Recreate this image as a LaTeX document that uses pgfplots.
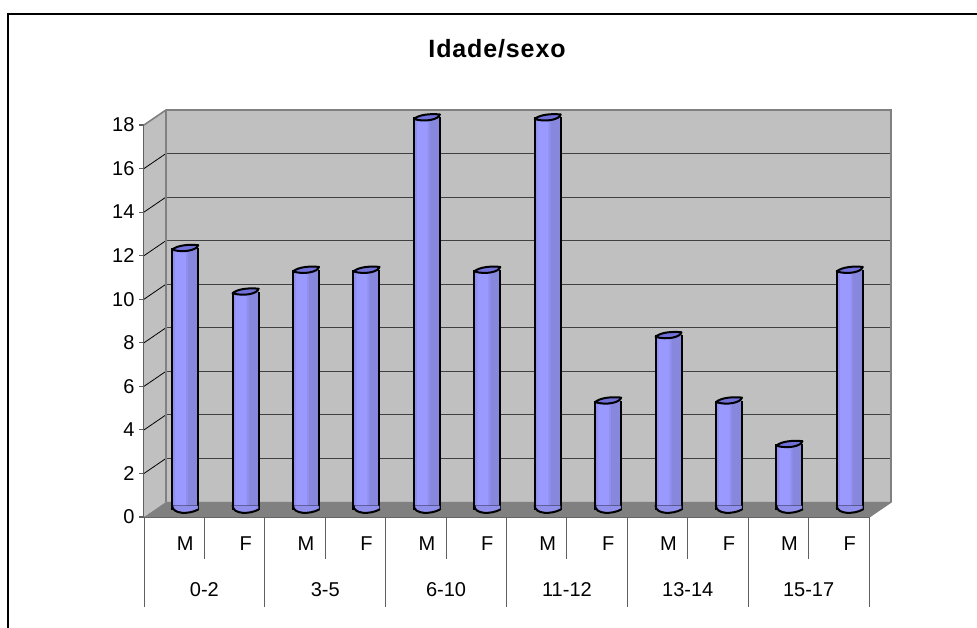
\documentclass[border=0pt]{standalone}
\usepackage{pgfplots}
\usepackage{pgfplotstable}
\pgfplotsset{compat=1.18}
\usepackage{fontspec}
\setmainfont{Liberation Sans}
\definecolor{wallgray}{HTML}{C0C0C0}
\definecolor{floorgray}{HTML}{808080}
\definecolor{gridgray}{HTML}{404040}
\definecolor{axgray}{HTML}{606060}
\definecolor{barcap}{HTML}{7070D8}
\definecolor{barlight}{HTML}{9999FF}
\definecolor{barmid}{HTML}{9090EC}
\definecolor{bardark}{HTML}{8787DE}
% top of a cylinder
\pgfdeclareplotmark{cyltop}{
  \path[fill=barcap,draw=black,line width=2pt,line join=round]
    (-13pt,-1.5pt) .. controls (-8pt,3pt) and (4pt,4pt) .. (13pt,3pt)
    .. controls (12pt,-2pt) and (-2pt,-5pt) .. (-13pt,-1.5pt) -- cycle;
}
% bottom of a cylinder
\pgfdeclareplotmark{cylbot}{
  \path[fill=barmid]
    (-13pt,4pt) .. controls (-13pt,-5pt) and (4pt,-5pt) .. (13pt,0pt) -- (13pt,4pt) -- cycle;
  \path[draw=black,line width=2pt,line cap=round]
    (-13pt,4pt) .. controls (-13pt,-5pt) and (4pt,-5pt) .. (13pt,0pt);
}
\pgfplotstableread{
x    y  base
0.5  12 0
1.5  10 0
2.5  11 0
3.5  11 0
4.5  18 0
5.5  11 0
6.5  18 0
7.5  5  0
8.5  8  0
9.5  5  0
10.5 3  0
11.5 11 0
}\bars
\begin{document}
\begin{tikzpicture}
\begin{axis}[
  scale only axis,
  width=725pt, height=392pt,
  at={(144pt,-517pt)}, anchor=origin,
  xmin=0, xmax=12, ymin=0, ymax=18,
  clip=false,
  axis x line=bottom, axis y line=left,
  axis line style={-, draw=axgray, line width=1.1pt},
  tick align=outside,
  ytick={0,2,...,18},
  xtick={0.5,1.5,...,11.5},
  xticklabels={M,F,M,F,M,F,M,F,M,F,M,F},
  x tick style={draw=none},
  y tick style={draw=axgray, line width=1.1pt},
  major tick length=5pt,
  tick label style={font=\fontsize{20}{22}\selectfont, text=black},
  /pgf/number format/assume math mode=true,
  x tick label style={xshift=11pt, yshift=-11pt},
  y tick label style={xshift=-1pt},
  set layers=standard,
]
% walls and floor
\fill[wallgray,on layer=axis background] (axis cs:0.364,0.69) rectangle (axis cs:12.364,18.69);
\fill[wallgray,on layer=axis background] (axis cs:0,0) -- (axis cs:0.364,0.69) -- (axis cs:0.364,18.69) -- (axis cs:0,18) -- cycle;
\fill[floorgray,on layer=axis background] (axis cs:0,0) -- (axis cs:0.364,0.69) -- (axis cs:12.364,0.69) -- (axis cs:12,0) -- cycle;
\pgfplotsinvokeforeach{2,4,...,16}{
  \draw[gridgray,line width=1.1pt,on layer=axis background] (axis cs:0.364,#1+0.69) -- (axis cs:12.364,#1+0.69);
  \draw[black,line width=0.8pt,on layer=axis background] (axis cs:0,#1) -- (axis cs:0.364,#1+0.69);
}
\draw[floorgray,line width=1.6pt,on layer=axis background] (axis cs:0,18) -- (axis cs:0.364,18.69) -- (axis cs:12.364,18.69) -- (axis cs:12.364,0.69) -- (axis cs:12,0);
\draw[floorgray,line width=1.6pt,on layer=axis background] (axis cs:0.364,18.69) -- (axis cs:0.364,0.69);

% cylinders: bottom, body strips, sides, top
\addplot[only marks, mark=cylbot, xshift=11pt, yshift=7.5pt] table[x=x,y=base] {\bars};
\addplot[ybar, bar width=26pt, bar shift=0pt, draw=none, fill=barlight, xshift=11pt, yshift=7.5pt] table[x=x,y=y] {\bars};
\addplot[ybar, bar width=3pt, bar shift=-11.5pt, draw=none, fill=barmid, xshift=11pt, yshift=7.5pt] table[x=x,y=y] {\bars};
\addplot[ybar, bar width=2pt, bar shift=2pt, draw=none, fill=barmid, xshift=11pt, yshift=7.5pt] table[x=x,y=y] {\bars};
\addplot[ybar, bar width=10pt, bar shift=8pt, draw=none, fill=bardark, xshift=11pt, yshift=7.5pt] table[x=x,y=y] {\bars};
\addplot[ycomb, no marks, black, line width=2pt, xshift=-2pt, yshift=7.5pt] table[x=x,y=y] {\bars};
\addplot[ycomb, no marks, black, line width=2pt, xshift=24pt, yshift=7.5pt] table[x=x,y=y] {\bars};
\addplot[only marks, mark=cyltop, xshift=11pt, yshift=7.5pt] table[x=x,y=y] {\bars};

% category separators
\pgfplotsinvokeforeach{0,2,...,12}{
  \draw[axgray,line width=0.9pt] (axis cs:#1,0) -- ++(0,-90pt);
}
\pgfplotsinvokeforeach{1,3,...,11}{
  \draw[axgray,line width=0.9pt] (axis cs:#1,0) -- ++(0,-42pt);
}
\foreach \cx/\lab in {1/0-2,3/3-5,5/6-10,7/11-12,9/13-14,11/15-17}{
  \edef\tmp{\noexpand\node[font=\noexpand\fontsize{20}{22}\noexpand\selectfont,anchor=center] at (axis cs:\cx,0) [yshift=-73pt] {\lab};}
  \tmp
}
\end{axis}
% page and frame
\path[use as bounding box] (0,-628pt) rectangle (977pt,0);
\draw[black,line width=2.2pt] (8pt,-628pt) -- (8pt,-14pt) -- (977pt,-14pt);
\node[font=\bfseries\fontsize{25}{28}\selectfont\addfontfeature{LetterSpace=3.5}] at (497pt,-49pt) {Idade/sexo};
\end{tikzpicture}
\end{document}
